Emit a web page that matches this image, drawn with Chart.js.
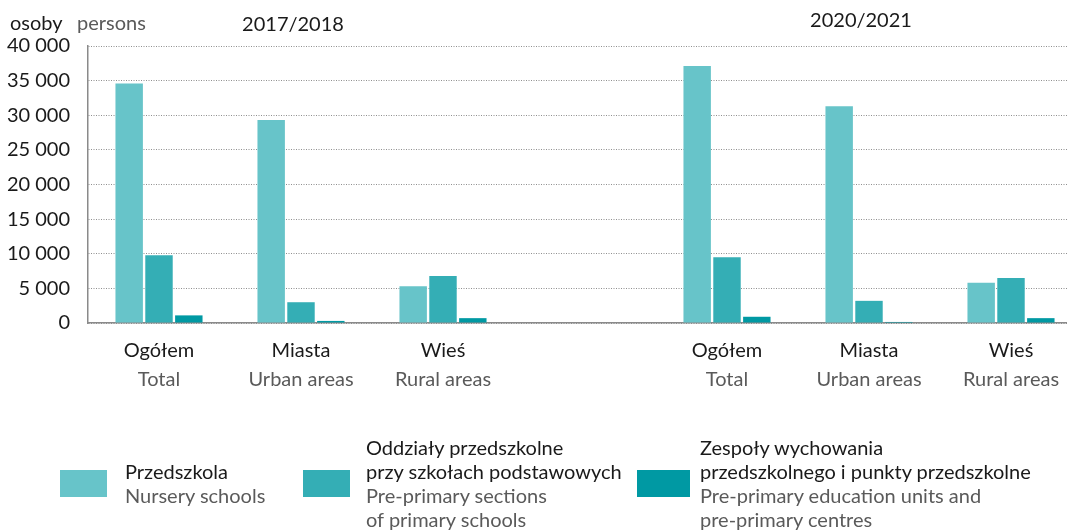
<!DOCTYPE html>
<html>
<head>
<meta charset="utf-8">
<script src="https://cdn.jsdelivr.net/npm/chart.js@4"></script>
<style>
  html, body { margin: 0; padding: 0; background: #fff; overflow: hidden; }
  body { width: 1067px; height: 530px; position: relative; font-family: Lato, "Noto Sans", sans-serif; }
  #wrap { position: absolute; left: 0; top: 0; width: 1082px; height: 530px; }
  .item { position: absolute; font-size: 20px; line-height: 24px; color: #1a1a1a; }
  .box { position: absolute; width: 47px; height: 27px; }
  .en { color: #5a5a5a; }
</style>
</head>
<body>
<div id="wrap"><canvas id="chart"></canvas></div>

<div class="box" style="left:60px; top:470px; background:#67C4C9"></div>
<div class="item" style="left:125px; top:459px">Przedszkola<br><span class="en">Nursery schools</span></div>

<div class="box" style="left:303px; top:470px; background:#34AEB5"></div>
<div class="item" style="left:366px; top:435px">Oddziały przedszkolne<br>przy szkołach podstawowych<br><span class="en">Pre-primary sections<br>of primary schools</span></div>

<div class="box" style="left:637px; top:470px; width:53px; background:#0099A3"></div>
<div class="item" style="left:700px; top:435px">Zespoły wychowania<br>przedszkolnego i punkty przedszkolne<br><span class="en">Pre-primary education units and<br>pre-primary centres</span></div>

<script>
// dane
const categories = ['Ogółem', 'Miasta', 'Wieś', '', 'Ogółem', 'Miasta', 'Wieś'];
const categoriesEn = ['Total', 'Urban areas', 'Rural areas', '', 'Total', 'Urban areas', 'Rural areas'];
const periods = ['2017/2018', '2020/2021'];
const przedszkola = [34600, 29300, 5300, null, 37100, 31300, 5800];
const oddzialy = [9800, 3000, 6800, null, 9500, 3200, 6500];
const zespoly = [1100, 300, 700, null, 900, 150, 700];
const yTicks = [0, 5000, 10000, 15000, 20000, 25000, 30000, 35000, 40000];

const seriesNames = [
    'Przedszkola',
    'Oddziały przedszkolne przy szkołach podstawowych',
    'Zespoły wychowania przedszkolnego i punkty przedszkolne'
];
const seriesColors = ['#67C4C9', '#34AEB5', '#0099A3'];

const FONT = 'Lato, "Noto Sans", sans-serif';

function fmt(v) {
    return String(v).replace(/\B(?=(\d{3})+(?!\d))/g, ' ');
}

// podpisy kategorii (dwie linie) i lata nad wykresem
const labelsPlugin = {
    id: 'twoLineLabels',
    afterDraw(chart) {
        const ctx = chart.ctx;
        const x = chart.scales.x;
        ctx.save();
        ctx.textAlign = 'center';
        ctx.textBaseline = 'middle';
        categories.forEach((c, i) => {
            if (!c) return;
            const px = x.getPixelForValue(i);
            ctx.font = '20px ' + FONT;
            ctx.fillStyle = '#1a1a1a';
            ctx.fillText(c, px, 351);
            ctx.fillStyle = '#5a5a5a';
            ctx.fillText(categoriesEn[i], px, 380);
        });
        ctx.fillStyle = '#1a1a1a';
        ctx.fillText(periods[0], x.getPixelForValue(1) - 8, 25);
        ctx.fillText(periods[1], x.getPixelForValue(5) - 8, 21);
        // jednostka
        ctx.textAlign = 'left';
        ctx.fillText('osoby', 10, 24);
        ctx.fillStyle = '#5a5a5a';
        ctx.fillText('persons', 77, 24);
        ctx.restore();
    }
};

document.addEventListener('DOMContentLoaded', function() {
    const ctx = document.getElementById('chart').getContext('2d');
    new Chart(ctx, {
        type: 'bar',
        data: {
            labels: categories,
            datasets: [przedszkola, oddzialy, zespoly].map((d, i) => ({
                label: seriesNames[i],
                data: d,
                backgroundColor: seriesColors[i],
                borderWidth: 0,
                barPercentage: 0.92,
                categoryPercentage: 0.63
            }))
        },
        options: {
            responsive: true,
            maintainAspectRatio: false,
            animation: false,
            layout: { padding: { top: 46, left: 0, right: 0, bottom: 0 } },
            plugins: {
                legend: { display: false },
                tooltip: { enabled: false }
            },
            scales: {
                x: {
                    grid: { display: false },
                    border: { display: true, color: '#8a8a8a', width: 1.5 },
                    ticks: { display: false },
                    afterFit: s => { s.height = 207; }
                },
                y: {
                    min: 0,
                    max: 40000,
                    afterBuildTicks: s => { s.ticks = yTicks.map(v => ({ value: v })); },
                    afterFit: s => { s.width = 88; },
                    grid: { color: '#8f8f8f', lineWidth: 1, drawTicks: false },
                    border: { display: true, color: '#8a8a8a', width: 1.5, dash: [1, 1.5] },
                    ticks: {
                        padding: 18,
                        color: '#1a1a1a',
                        font: { size: 20, family: FONT },
                        callback: v => fmt(v)
                    }
                }
            }
        },
        plugins: [labelsPlugin]
    });
});
</script>
</body>
</html>
